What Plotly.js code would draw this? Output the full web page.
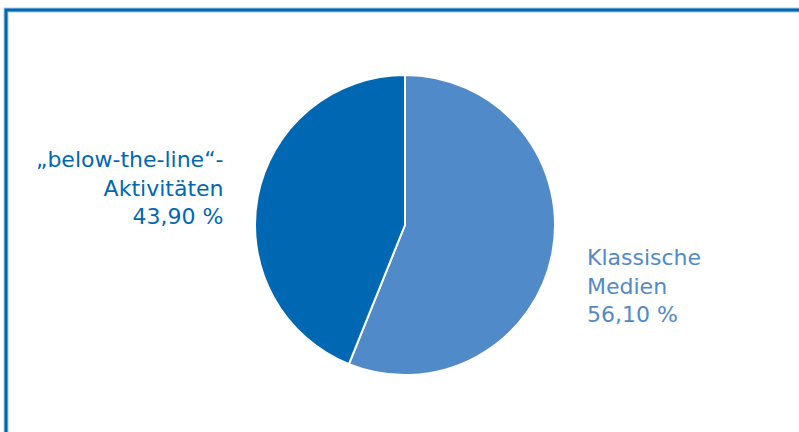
<!DOCTYPE html>
<html><head><meta charset="utf-8">
<script src="https://cdn.plot.ly/plotly-3.0.1.min.js"></script>
<style>html,body{margin:0;padding:0;background:#fff}#chart{width:799px;height:432px}</style>
</head><body><div id="chart"></div>
<script>
const categories = ["Klassische Medien", "„below-the-line“-Aktivitäten"];
const values = [56.10, 43.90];
const valueLabels = ["56,10 %", "43,90 %"];
const colors = ["#518ac8", "#0068b3"];

const W = 799, H = 432;
const px = x => x / W, py = y => 1 - y / H;

const data = [{
  type: "pie",
  labels: categories,
  values: values,
  sort: false,
  direction: "clockwise",
  rotation: 0,
  textinfo: "none",
  hoverinfo: "label+percent",
  marker: {colors: colors, line: {color: "#ffffff", width: 2}},
  domain: {x: [px(255), px(555)], y: [py(375), py(75)]},
  showlegend: false
}];

const layout = {
  width: W, height: H,
  margin: {l: 0, r: 0, t: 0, b: 0},
  paper_bgcolor: "#ffffff",
  font: {family: "DejaVu Sans, Arial, sans-serif"},
  shapes: [
    {type: "path", xref: "paper", yref: "paper",
     path: `M ${px(6)} ${py(440)} L ${px(6)} ${py(10)} L ${px(810)} ${py(10)}`,
     line: {color: "#a9cbe9", width: 5}},
    {type: "path", xref: "paper", yref: "paper",
     path: `M ${px(6)} ${py(440)} L ${px(6)} ${py(10)} L ${px(810)} ${py(10)}`,
     line: {color: "#0068b3", width: 3}}
  ],
  annotations: [
    {xref: "paper", yref: "paper", x: px(225), y: py(188), xanchor: "right", yanchor: "middle",
     align: "right", showarrow: false,
     text: "„below-the-line“-<br>Aktivitäten<br>" + valueLabels[1],
     font: {size: 22, color: colors[1]}},
    {xref: "paper", yref: "paper", x: px(585), y: py(286), xanchor: "left", yanchor: "middle",
     align: "left", showarrow: false,
     text: "Klassische<br>Medien<br>" + valueLabels[0],
     font: {size: 22, color: colors[0]}}
  ]
};
Plotly.newPlot("chart", data, layout, {displayModeBar: false, staticPlot: true});
</script></body></html>
